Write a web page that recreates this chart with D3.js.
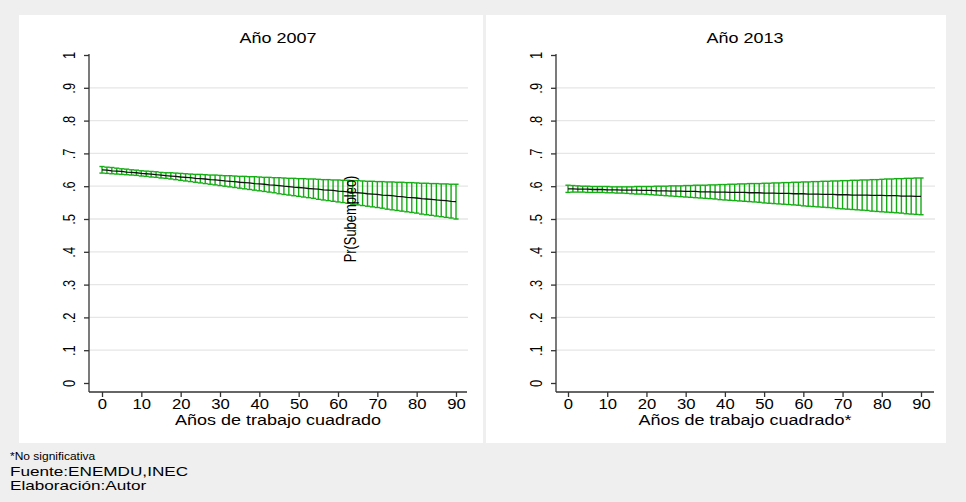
<!DOCTYPE html>
<html>
<head>
<meta charset="utf-8">
<script src="https://cdn.jsdelivr.net/npm/d3@7"></script>
<style>
  html, body { margin: 0; padding: 0; background: #efefef; }
  svg { display: block; }
  text { font-family: "Liberation Sans", Arial, Helvetica, sans-serif; fill: #000; }
</style>
</head>
<body>
<svg id="chart" width="966" height="502"></svg>
<script>
// ---------------- DATA ----------------
const xValues = [0,1.25,2.5,3.75,5,6.25,7.5,8.75,10,11.25,12.5,13.75,15,16.25,17.5,18.75,20,21.25,22.5,23.75,25,26.25,27.5,28.75,30,31.25,32.5,33.75,35,36.25,37.5,38.75,40,41.25,42.5,43.75,45,46.25,47.5,48.75,50,51.25,52.5,53.75,55,56.25,57.5,58.75,60,61.25,62.5,63.75,65,66.25,67.5,68.75,70,71.25,72.5,73.75,75,76.25,77.5,78.75,80,81.25,82.5,83.75,85,86.25,87.5,88.75,90];

const mean2007 = [.650,.649,.647,.646,.645,.643,.642,.641,.639,.638,
  .637,.635,.634,.632,.631,.630,.628,.627,.626,.624,
  .623,.622,.620,.619,.618,.616,.615,.614,.612,.611,
  .610,.608,.607,.606,.604,.603,.602,.600,.599,.597,
  .596,.595,.593,.592,.591,.589,.588,.587,.585,.584,
  .583,.581,.580,.579,.577,.576,.575,.573,.572,.571,
  .569,.568,.566,.565,.564,.562,.561,.560,.558,.557,
  .556,.554,.553];
const lo2007 = [.640,.639,.638,.637,.636,.635,.634,.633,.631,.630,
  .628,.627,.625,.624,.622,.620,.618,.616,.614,.612,
  .610,.608,.606,.604,.602,.600,.598,.596,.594,.592,
  .590,.588,.586,.584,.582,.580,.577,.575,.573,.571,
  .569,.567,.565,.563,.560,.558,.556,.554,.552,.550,
  .548,.545,.543,.541,.539,.537,.535,.533,.530,.528,
  .526,.524,.522,.520,.518,.515,.513,.511,.509,.507,
  .505,.503,.500];
const hi2007 = [.660,.658,.657,.655,.653,.652,.650,.649,.647,.646,
  .645,.644,.642,.641,.641,.640,.639,.638,.637,.636,
  .636,.635,.634,.634,.633,.632,.632,.631,.630,.630,
  .629,.629,.628,.627,.627,.626,.626,.625,.624,.624,
  .623,.623,.622,.622,.621,.620,.620,.619,.619,.618,
  .618,.617,.617,.616,.615,.615,.614,.614,.613,.613,
  .612,.612,.611,.611,.610,.609,.609,.608,.608,.607,
  .607,.606,.606];

const mean2013 = [.592,.592,.591,.591,.591,.590,.590,.590,.589,.589,
  .589,.588,.588,.588,.588,.587,.587,.587,.586,.586,
  .586,.585,.585,.585,.584,.584,.584,.583,.583,.583,
  .582,.582,.582,.581,.581,.581,.581,.580,.580,.580,
  .579,.579,.579,.578,.578,.578,.577,.577,.577,.576,
  .576,.576,.575,.575,.575,.574,.574,.574,.573,.573,
  .573,.573,.572,.572,.572,.571,.571,.571,.570,.570,
  .570,.569,.569];
const lo2013 = [.581,.582,.582,.582,.581,.581,.581,.581,.580,.580,
  .579,.579,.578,.577,.576,.576,.575,.574,.573,.572,
  .571,.570,.569,.568,.567,.566,.565,.564,.563,.562,
  .561,.559,.558,.557,.556,.555,.554,.553,.552,.551,
  .549,.548,.547,.546,.545,.544,.543,.542,.540,.539,
  .538,.537,.536,.535,.534,.532,.531,.530,.529,.528,
  .527,.526,.524,.523,.522,.521,.520,.519,.518,.516,
  .515,.514,.513];
const hi2013 = [.603,.602,.601,.600,.600,.599,.599,.599,.599,.598,
  .598,.598,.598,.598,.599,.599,.599,.599,.600,.600,
  .600,.601,.601,.601,.602,.602,.603,.603,.603,.604,
  .604,.605,.605,.606,.606,.607,.607,.608,.608,.608,
  .609,.609,.610,.610,.611,.611,.612,.612,.613,.613,
  .614,.614,.615,.615,.616,.616,.617,.617,.618,.618,
  .619,.619,.620,.620,.621,.622,.622,.623,.623,.624,
  .624,.625,.625];

const panelTitles = ["Año 2007", "Año 2013"];
const xAxisTitles = ["Años de trabajo cuadrado", "Años de trabajo cuadrado*"];
const yAxisTitle = "Pr(Subempleo)";
const xTickValues = [0,10,20,30,40,50,60,70,80,90];
const yTickValues = [0,.1,.2,.3,.4,.5,.6,.7,.8,.9,1];
const yTickLabels = ["0",".1",".2",".3",".4",".5",".6",".7",".8",".9","1"];
const yGridValues = [.1,.2,.3,.4,.5,.6,.7,.8,.9];
const footnotes = ["*No significativa", "Fuente:ENEMDU,INEC", "Elaboración:Autor"];

// ---------------- DRAW ----------------
const svg = d3.select("#chart");
svg.append("rect").attr("width", 966).attr("height", 502).attr("fill", "#efefef");

const GREEN = "#14ad14";
const SX = 1.2;      // horizontal stretch of horizontal text
const SV = 0.86;     // along-text scale of vertical text
const FONT = '"Liberation Sans", Arial, Helvetica, sans-serif';
const panels = [
  { x0: 19, x1: 483, axisX: 89, xr: [102, 456], axisEnd: 467, mean: mean2007, lo: lo2007, hi: hi2007, showY: true },
  { x0: 486, x1: 946, axisX: 556, xr: [568, 921], axisEnd: 934, mean: mean2013, lo: lo2013, hi: hi2013, showY: false }
];

function hText(parent, x, y, str, size, anchor, sx) {
  return parent.append("text")
    .attr("transform", `translate(${x},${y}) scale(${sx || SX},1)`)
    .attr("text-anchor", anchor || "middle").attr("font-size", size).text(str);
}
function vText(parent, x, y, str, size) {
  return parent.append("text")
    .attr("transform", `translate(${x},${y}) rotate(-90) scale(${SV},1.15)`)
    .attr("text-anchor", "middle").attr("font-size", size).text(str);
}

panels.forEach((p, pi) => {
  const g = svg.append("g");
  g.append("rect").attr("x", p.x0).attr("y", 15).attr("width", p.x1 - p.x0).attr("height", 428).attr("fill", "#fff");

  const x = d3.scaleLinear().domain([0, 90]).range(p.xr);
  const y = d3.scaleLinear().domain([0, 1]).range([383, 55]);
  const axisY = 392;

  // grid
  g.selectAll("line.grid").data(yGridValues).join("line")
    .attr("x1", p.axisX).attr("x2", p.axisEnd + 1)
    .attr("y1", d => y(d)).attr("y2", d => y(d))
    .attr("stroke", "#e6e6e6").attr("stroke-width", 1.3);

  // title
  hText(g, (p.axisX + p.axisEnd) / 2, 43, panelTitles[pi], 15);

  // y axis
  const yAxis = d3.axisLeft(y).tickValues(yTickValues).tickSize(5).tickPadding(9)
    .tickFormat((d, i) => yTickLabels[i]);
  const ya = g.append("g").attr("transform", `translate(${p.axisX},0)`).call(yAxis);
  ya.select(".domain").attr("d", `M0,${y(1) - 1}V${axisY}`).attr("stroke", "#333").attr("stroke-width", 1.3);
  ya.selectAll(".tick line").attr("stroke", "#333").attr("stroke-width", 1.3);
  ya.selectAll(".tick text")
    .attr("font-size", 15).attr("font-family", FONT)
    .attr("fill", "#000")
    .attr("text-anchor", "middle").attr("dy", null)
    .attr("transform", `translate(-20,0) rotate(-90) scale(${SV},1.15)`)
    .attr("x", 0).attr("y", 5);

  // x axis
  const xAxis = d3.axisBottom(x).tickValues(xTickValues).tickSize(5).tickPadding(2);
  const xa = g.append("g").attr("transform", `translate(0,${axisY})`).call(xAxis);
  xa.select(".domain").attr("d", `M${p.axisX},0H${p.axisEnd}`).attr("stroke", "#333").attr("stroke-width", 1.3);
  xa.selectAll(".tick line").attr("stroke", "#333").attr("stroke-width", 1.3);
  xa.selectAll(".tick text").attr("font-size", 14.5).attr("fill", "#000")
    .attr("font-family", FONT)
    .attr("transform", `scale(1.15,1)`);

  hText(g, (p.axisX + p.axisEnd) / 2, 424.5, xAxisTitles[pi], 15);

  // CI bars
  const data = xValues.map((xv, i) => ({ x: xv, m: p.mean[i], lo: p.lo[i], hi: p.hi[i] }));
  const capW = 2.6;
  const bars = g.append("g").attr("stroke", GREEN).attr("stroke-width", 1.4).attr("fill", "none");
  bars.selectAll("line.v").data(data).join("line")
    .attr("x1", d => x(d.x)).attr("x2", d => x(d.x))
    .attr("y1", d => y(d.lo)).attr("y2", d => y(d.hi));
  bars.selectAll("line.t").data(data).join("line")
    .attr("x1", d => x(d.x) - capW).attr("x2", d => x(d.x) + capW)
    .attr("y1", d => y(d.hi)).attr("y2", d => y(d.hi));
  bars.selectAll("line.b").data(data).join("line")
    .attr("x1", d => x(d.x) - capW).attr("x2", d => x(d.x) + capW)
    .attr("y1", d => y(d.lo)).attr("y2", d => y(d.lo));

  // mean line
  g.append("path").datum(data)
    .attr("d", d3.line().x(d => x(d.x)).y(d => y(d.m)))
    .attr("fill", "none").attr("stroke", "#111").attr("stroke-width", 1.3);

  if (p.showY) {
    vText(g, 356, 219, yAxisTitle, 15);
  }
});

// footnotes
hText(svg, 10, 460, footnotes[0], 10, "start", 1.2);
hText(svg, 10, 475.5, footnotes[1], 13.5, "start", 1.27);
hText(svg, 10, 490, footnotes[2], 13.5, "start", 1.27);
</script>
</body>
</html>
